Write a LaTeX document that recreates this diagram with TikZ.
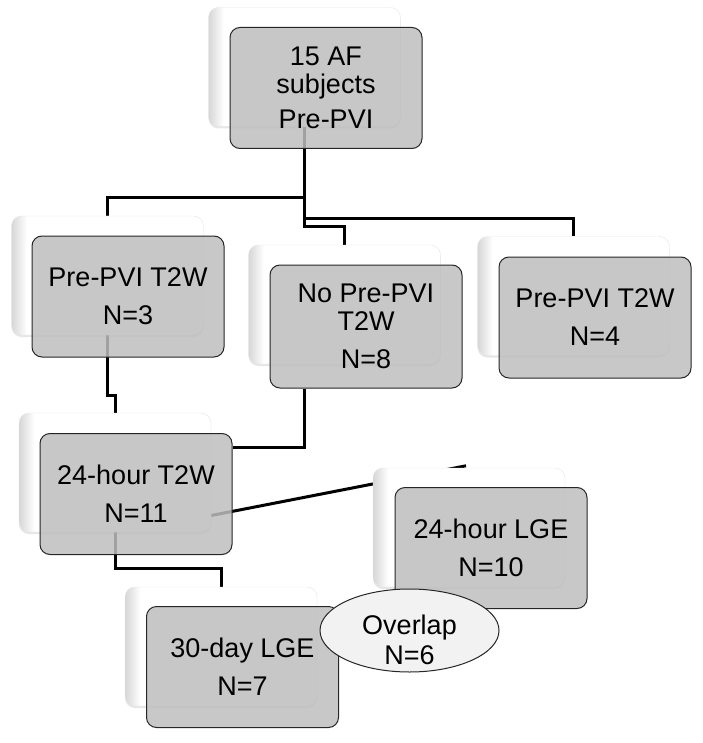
\documentclass[tikz,border=0pt]{standalone}
\usepackage{fontspec}
\setmainfont{Liberation Sans}
\usetikzlibrary{shapes.geometric,shadows,backgrounds}
\pgfdeclarehorizontalshading{backfade}{100bp}{color(0bp)=(black!16); color(25bp)=(black!16); color(29bp)=(white); color(100bp)=(white)}
\definecolor{cardgray}{RGB}{190,190,190}
\definecolor{ovalgray}{RGB}{242,242,242}

\begin{document}
\begin{tikzpicture}[x=1pt, y=-1pt,
    back/.style={rectangle, rounded corners=10pt, minimum width=192pt, minimum height=119pt,
        draw=black!10, shading=backfade,
        drop shadow={opacity=0.2, shadow xshift=0pt, shadow yshift=-2pt}},
    card/.style={rectangle, rounded corners=10pt, minimum width=192pt, minimum height=121pt,
        draw=black!85, line width=1pt, fill=cardgray, fill opacity=0.85, text opacity=1,
        align=center, font=\fontsize{27}{28}\selectfont},
    oval/.style={ellipse, draw=black!85, line width=1pt, fill=ovalgray,
        minimum width=179pt, minimum height=83pt, inner sep=0pt},
    conn/.style={line width=3pt, black}]
    \useasboundingbox (0,0) rectangle (702,743);

    % top box
    \node[back] (sA) at (304.5,67) {};
    \node[card] (A) at (326,88) {15 AF\\subjects\\[7pt]Pre-PVI};

    % second row
    \node[back] (sB) at (107.5,275.5) {};
    \node[card] (B) at (128,296.5) {Pre-PVI T2W\\[10pt]N=3};
    \node[back] (sC) at (344.5,304.5) {};
    \node[card, minimum height=123pt] (C) at (366,326.5) {No Pre-PVI\\T2W\\[10pt]N=8};
    \node[back] (sD) at (573.5,296) {};
    \node[card] (D) at (595,317.5) {Pre-PVI T2W\\[10pt]N=4};

    % 24-hour row
    \node[back] (sE) at (115,472.5) {};
    \node[card] (E) at (136,494) {24-hour T2W\\[10pt]N=11};
    \node[back] (sF) at (469,527.5) {};
    \node[card] (F) at (491,548) {24-hour LGE\\[10pt]N=10};

    % 30-day
    \node[back] (sG) at (221,646.5) {};
    \node[card] (G) at (242.5,667) {30-day LGE\\[10pt]N=7};

    % overlap
    \node[oval] (ov) at (409.5,630.5) {};
    \node[align=center, font=\fontsize{27}{28}\selectfont] (ovtext) at ([yshift=-9pt]ov.center) {Overlap\\[2pt]N=6};

    % connectors, behind the boxes
    \begin{scope}[on background layer]
        \coordinate (tick) at ([xshift=-3pt,yshift=2pt]sF.north);
        \draw[conn] (sA.south) -- ++(0,71) -| (sB.north);
        \draw[conn] (sA.south) -- ++(0,92) -| (sD.north);
        \draw[conn] (sA.south) -- ++(0,100) -| (sC.north);
        \draw[conn] (sB.south) -- ++(0,60) -| (sE.north);
        \draw[conn] (C.south -| sA.south) |- ([yshift=47pt]E.east);
        \draw[conn] ([yshift=-43pt]sE.east) -- (tick);
        \draw[conn] (sE.south) -- ++(0,36) -| (sG.north);
    \end{scope}
\end{tikzpicture}
\end{document}
